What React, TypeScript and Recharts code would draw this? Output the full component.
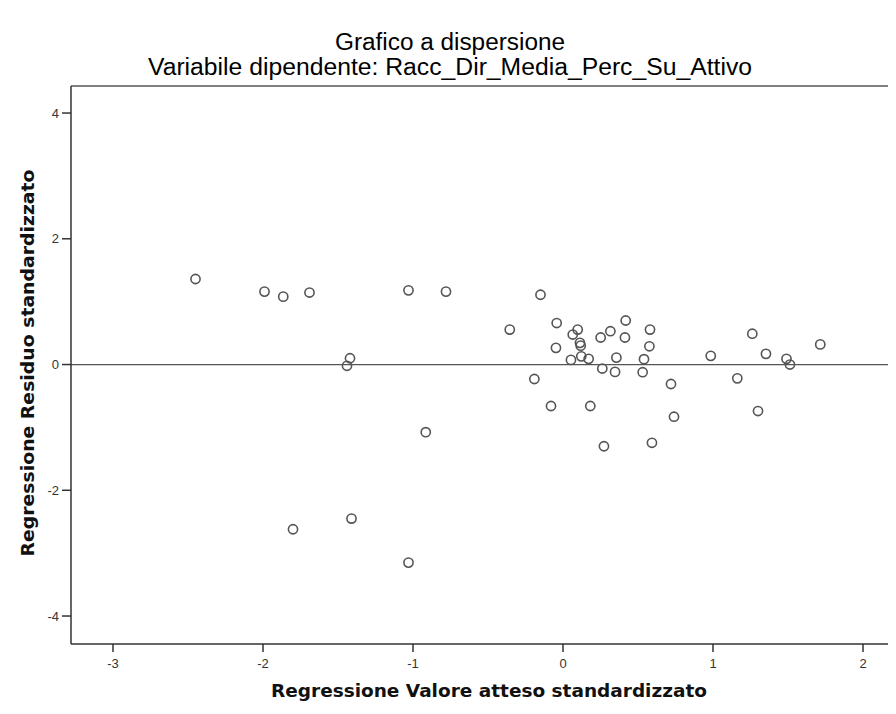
import { ScatterChart, Scatter, XAxis, YAxis, ReferenceLine } from 'recharts';

// valore atteso standardizzato (x) e residuo standardizzato (y)
const xVals = [
  -2.45, -1.99, -1.865, -1.69, -1.03, -0.78, -0.15, -1.42, -1.44, -0.355,
  -0.042, -0.047, 0.098, 0.065, 0.113, 0.118, 0.122, 0.053, 0.171, 0.251,
  0.316, 0.418, 0.413, 0.58, 0.576, 0.356, 0.54, 0.262, 0.347, 0.531,
  -0.191, 0.72, -0.08, 0.182, 0.74, 0.273, 0.593, 0.985, 1.262, 1.353,
  1.49, 1.513, 1.715, 1.162, 1.3, -0.915, -1.8, -1.41, -1.03,
];
const yVals = [
  1.36, 1.16, 1.08, 1.145, 1.18, 1.16, 1.11, 0.1, -0.02, 0.556,
  0.66, 0.265, 0.556, 0.477, 0.345, 0.3, 0.13, 0.074, 0.09, 0.43,
  0.53, 0.7, 0.43, 0.556, 0.29, 0.11, 0.085, -0.064, -0.117, -0.122,
  -0.23, -0.31, -0.66, -0.66, -0.83, -1.3, -1.245, 0.138, 0.49, 0.17,
  0.09, 0.0, 0.32, -0.22, -0.74, -1.076, -2.62, -2.45, -3.15,
];

const xTicks = [-3, -2, -1, 0, 1, 2];
const yTicks = [-4, -2, 0, 2, 4];
const X_DOMAIN: [number, number] = [-3.28, 2.3];
const Y_DOMAIN: [number, number] = [-4.445, 4.43];

const title = 'Grafico a dispersione';
const subtitle = 'Variabile dipendente: Racc_Dir_Media_Perc_Su_Attivo';
const xLabel = 'Regressione Valore atteso standardizzato';
const yLabel = 'Regressione Residuo standardizzato';

const points = xVals.map((x, i) => ({ x, y: yVals[i] }));

const tickStyle = { fontSize: 13, fill: '#333', fontFamily: 'Liberation Sans, Arial, sans-serif' };

const Dot = (props: any) => (
  <circle cx={props.cx} cy={props.cy} r={4.6} fill="none" stroke="#555" strokeWidth={1.6} />
);

export default function App() {
  return (
    <div style={{ position: 'relative', width: 888, height: 698, overflow: 'hidden', background: '#fff' }}>
      <ScatterChart width={900} height={698} margin={{ top: 78, right: 0, bottom: 0, left: 0 }}>
        <XAxis
          type="number"
          dataKey="x"
          domain={X_DOMAIN}
          ticks={xTicks}
          allowDataOverflow
          height={62}
          tickSize={8}
          tickMargin={7}
          tick={tickStyle}
          axisLine={{ stroke: '#333', strokeWidth: 1.5 }}
          tickLine={{ stroke: '#333', strokeWidth: 1.5 }}
        />
        <YAxis
          type="number"
          dataKey="y"
          domain={Y_DOMAIN}
          ticks={yTicks}
          allowDataOverflow
          width={63}
          tickSize={9}
          tickMargin={3}
          tick={tickStyle}
          axisLine={{ stroke: '#333', strokeWidth: 1.5 }}
          tickLine={{ stroke: '#333', strokeWidth: 1.5 }}
        />
        <ReferenceLine y={Y_DOMAIN[1]} stroke="#555" strokeWidth={1.5} />
        <ReferenceLine y={0} stroke="#555" strokeWidth={1.3} />
        <Scatter data={points} shape={<Dot />} isAnimationActive={false} />
      </ScatterChart>
      <svg
        width={888}
        height={698}
        style={{ position: 'absolute', left: 0, top: 0, pointerEvents: 'none' }}
      >
        <text x={442} y={42} textAnchor="middle" fontSize={23} fill="#000"
          fontFamily="Liberation Sans, Arial, sans-serif"
          textLength={230} lengthAdjust="spacingAndGlyphs">{title}</text>
        <text x={442} y={67} textAnchor="middle" fontSize={23} fill="#000"
          fontFamily="Liberation Sans, Arial, sans-serif"
          textLength={604} lengthAdjust="spacingAndGlyphs">{subtitle}</text>
        <text x={481} y={689} textAnchor="middle" fontSize={17} fontWeight="bold" fill="#111"
          fontFamily="DejaVu Sans, sans-serif"
          textLength={436} lengthAdjust="spacingAndGlyphs">{xLabel}</text>
        <text x={20} y={355} textAnchor="middle" fontSize={17} fontWeight="bold" fill="#111"
          fontFamily="DejaVu Sans, sans-serif" transform="rotate(-90 20 355)"
          dy={6} textLength={387} lengthAdjust="spacingAndGlyphs">{yLabel}</text>
      </svg>
    </div>
  );
}
